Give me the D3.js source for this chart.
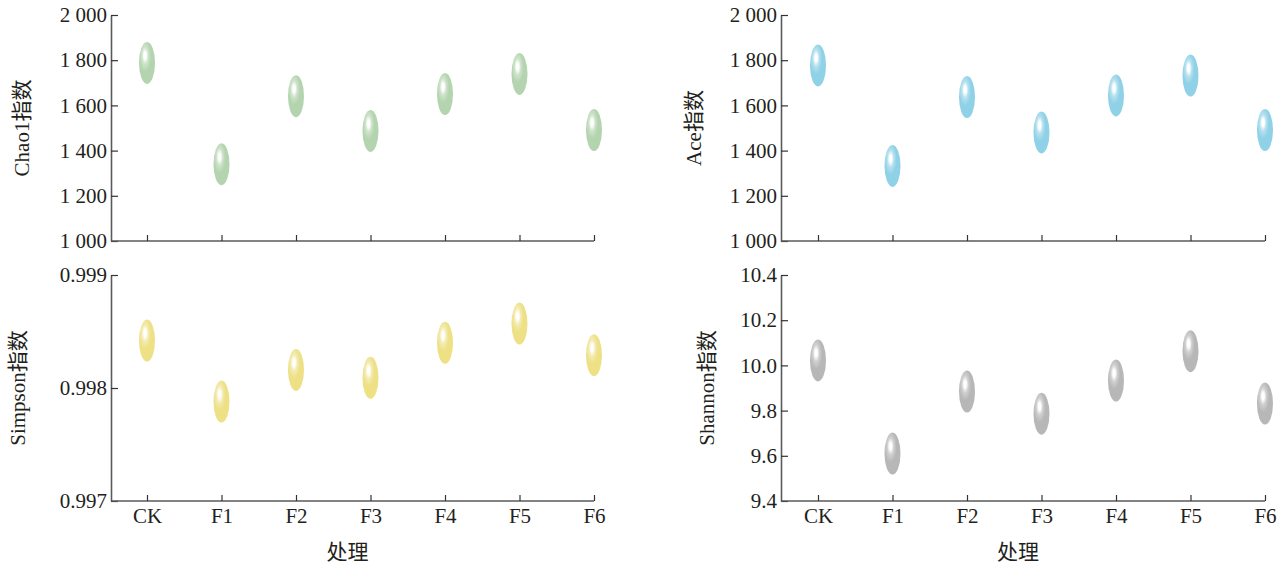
<!DOCTYPE html>
<html>
<head>
<meta charset="utf-8">
<script src="https://cdn.jsdelivr.net/npm/d3@7/dist/d3.min.js"></script>
<style>
  body { margin: 0; background: #fff; }
  svg { display: block; }
  text { font-family: "Liberation Serif", "Noto Sans CJK SC", serif; fill: #231f20; }
</style>
</head>
<body>
<svg id="chart" width="1284" height="567"></svg>
<script>
// treatments on the x axis
const treatments = ["CK", "F1", "F2", "F3", "F4", "F5", "F6"];

// index values
const chao1 = [1788, 1340, 1641, 1487, 1650, 1739, 1491];
const ace = [1777, 1332, 1637, 1480, 1644, 1732, 1491];
const simpson = [0.99842, 0.99788, 0.99816, 0.99809, 0.99840, 0.99857, 0.99829];
const shannon = [10.022, 9.610, 9.884, 9.786, 9.933, 10.063, 9.831];

// y tick values
const countTicks = [1000, 1200, 1400, 1600, 1800, 2000];
const simpsonTicks = [0.997, 0.998, 0.999];
const shannonTicks = [9.4, 9.6, 9.8, 10.0, 10.2, 10.4];

const spaced = d3.formatLocale({ decimal: ".", thousands: " ", grouping: [3] }).format(",");

const panels = [
  { name: "chao1", title: "Chao1指数", values: chao1, domain: [1000, 2000], ticks: countTicks, fmt: spaced,
    x0: 111, x1: 594, first: 36, top: 15, bottom: 241, color: "#b3d4ae", titleX: 22, xLabels: false },
  { name: "ace", title: "Ace指数", values: ace, domain: [1000, 2000], ticks: countTicks, fmt: spaced,
    x0: 781, x1: 1265, first: 37, top: 15, bottom: 241, color: "#8fd1e7", titleX: 694, xLabels: false },
  { name: "simpson", title: "Simpson指数", values: simpson, domain: [0.997, 0.999], ticks: simpsonTicks, fmt: d3.format(".3f"),
    x0: 111, x1: 594, first: 36, top: 275, bottom: 501, color: "#ede085", titleX: 18, xLabels: true },
  { name: "shannon", title: "Shannon指数", values: shannon, domain: [9.4, 10.4], ticks: shannonTicks, fmt: d3.format(".1f"),
    x0: 781, x1: 1265, first: 37, top: 275, bottom: 501, color: "#b7b7b7", titleX: 707, xLabels: true }
];

const svg = d3.select("#chart");
const defs = svg.append("defs");

panels.forEach(p => {
  const base = d3.color(p.color);
  const grad = defs.append("radialGradient")
    .attr("id", "grad-" + p.name)
    .attr("cx", "0.38").attr("cy", "0.34")
    .attr("fx", "0.38").attr("fy", "0.32")
    .attr("r", "0.5");
  grad.append("stop").attr("offset", "0").attr("stop-color", "#ffffff");
  grad.append("stop").attr("offset", "0.16").attr("stop-color", "#ffffff").attr("stop-opacity", 0.95);
  grad.append("stop").attr("offset", "0.4").attr("stop-color", d3.interpolateRgb(base, "#fff")(0.35));
  grad.append("stop").attr("offset", "0.75").attr("stop-color", base.formatHex());
  grad.append("stop").attr("offset", "1").attr("stop-color", base.formatHex());
});

panels.forEach(p => {
  const g = svg.append("g").attr("transform", `translate(${p.x0},0)`);
  const w = p.x1 - p.x0;

  const x = d3.scalePoint().domain(treatments).range([p.first, w]);
  const y = d3.scaleLinear().domain(p.domain).range([p.bottom, p.top]);

  const yAxis = g.append("g")
    .call(d3.axisLeft(y).tickValues(p.ticks).tickFormat(p.fmt).tickSize(-7).tickSizeOuter(0).tickPadding(4));
  yAxis.selectAll("text").attr("font-size", 21).attr("fill", "#231f20");

  const xAxis = g.append("g")
    .attr("transform", `translate(0,${p.bottom})`)
    .call(d3.axisBottom(x).tickSize(-6).tickSizeOuter(0).tickPadding(7));
  xAxis.selectAll("text").attr("font-size", 21).attr("fill", "#231f20");
  if (!p.xLabels) xAxis.selectAll("text").remove();

  // x axis line starts at the y axis
  xAxis.select(".domain").attr("d", `M0,0H${w}`);

  g.selectAll(".domain").attr("stroke", "#5a5a5a").attr("stroke-width", 1.6);
  g.selectAll(".tick line").attr("stroke", "#333").attr("stroke-width", 1.2);

  g.append("text")
    .attr("transform", `translate(${p.titleX - p.x0},${(p.top + p.bottom) / 2}) rotate(-90)`)
    .attr("text-anchor", "middle")
    .attr("dominant-baseline", "central")
    .attr("font-size", 21)
    .text(p.title);

  if (p.xLabels) {
    g.append("text")
      .attr("x", w / 2 - 5)
      .attr("y", p.bottom + 51)
      .attr("text-anchor", "middle")
      .attr("dominant-baseline", "central")
      .attr("font-size", 21)
      .text("处理");
  }

  g.selectAll(".point")
    .data(p.values)
    .join("ellipse")
    .attr("class", "point")
    .attr("cx", (d, i) => x(treatments[i]))
    .attr("cy", d => y(d))
    .attr("rx", 8)
    .attr("ry", 21)
    .attr("fill", `url(#grad-${p.name})`);
});
</script>
</body>
</html>
